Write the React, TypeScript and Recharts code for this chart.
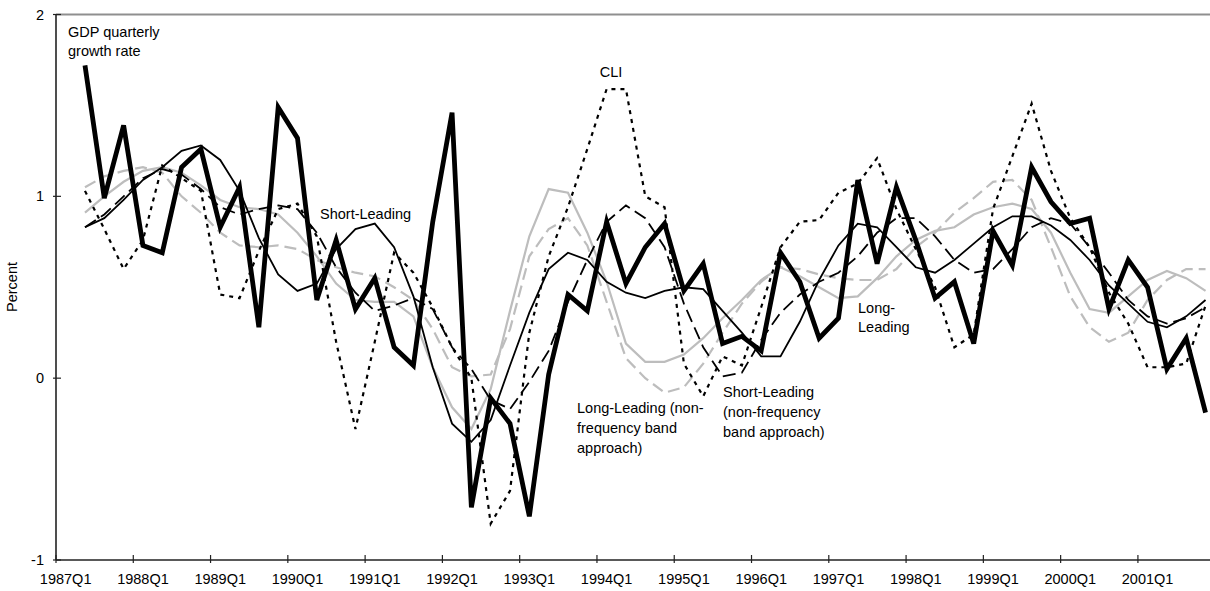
import React from 'react';
import { Customized, Line, LineChart, ReferenceLine, XAxis, YAxis } from 'recharts';

// Quarterly axis: 1987Q1 .. 2001Q4 (60 quarters)
const firstYear = 1987;
const quarterCount = 60;
const quarters: string[] = Array.from(
  { length: quarterCount },
  (_, i) => `${firstYear + Math.floor(i / 4)}Q${(i % 4) + 1}`
);

// Year boundaries that carry a tick + label
const yearTicks = [0, 4, 8, 12, 16, 20, 24, 28, 32, 36, 40, 44, 48, 52, 56];
const percentTicks = [-1, 0, 1, 2];

const gdpGrowth = [
  null, 1.72, 0.99, 1.39, 0.73, 0.69, 1.16, 1.26, 0.83, 1.05, 0.28, 1.49, 1.32, 0.43, 0.76, 0.38,
  0.55, 0.17, 0.07, 0.86, 1.46, -0.71, -0.11, -0.25, -0.76, 0.02, 0.46, 0.37, 0.86, 0.52, 0.72,
  0.85, 0.48, 0.63, 0.19, 0.23, 0.15, 0.69, 0.53, 0.22, 0.33, 1.09, 0.63, 1.05, 0.76, 0.44, 0.53,
  0.19, 0.81, 0.62, 1.16, 0.97, 0.85, 0.88, 0.38, 0.65, 0.5, 0.05, 0.22, -0.19,
];

const cli = [
  null, 1.03, 0.82, 0.6, 0.76, 1.17, 1.1, 1.03, 0.46, 0.44, 0.7, 0.93, 0.96, 0.78, 0.2, -0.28,
  0.2, 0.69, 0.58, 0.39, 0.17, 0.0, -0.8, -0.62, 0.25, 0.67, 0.94, 1.26, 1.59, 1.59, 1.0,
  0.94, 0.08, -0.1, 0.12, 0.07, 0.39, 0.72, 0.86, 0.87, 1.02, 1.07, 1.21, 0.93, 0.71, 0.5, 0.17,
  0.24, 0.93, 1.22, 1.51, 1.14, 0.88, 0.72, 0.47, 0.3, 0.06, 0.06, 0.08, 0.4,
];

const shortLeading = [
  null, 0.83, 0.88, 0.98, 1.09, 1.16, 1.25, 1.28, 1.2, 1.03, 0.77, 0.57, 0.48, 0.52, 0.71, 0.82,
  0.85, 0.72, 0.45, 0.06, -0.25, -0.35, -0.23, 0.07, 0.36, 0.6, 0.69, 0.65, 0.53, 0.47, 0.44,
  0.48, 0.5, 0.49, 0.37, 0.25, 0.12, 0.12, 0.31, 0.54, 0.73, 0.85, 0.83, 0.72, 0.61, 0.58, 0.65,
  0.74, 0.83, 0.89, 0.89, 0.84, 0.76, 0.65, 0.51, 0.41, 0.31, 0.28, 0.34, 0.43,
];

const shortLeadingNfb = [
  null, 0.83, 0.9, 1.0, 1.1, 1.15, 1.12, 1.04, 0.94, 0.9, 0.93, 0.95, 0.93, 0.8, 0.61, 0.47,
  0.37, 0.4, 0.44, 0.38, 0.17, 0.05, -0.12, -0.17, -0.02, 0.15, 0.42, 0.65, 0.86, 0.95, 0.88,
  0.72, 0.41, 0.17, 0.01, 0.03, 0.21, 0.36, 0.46, 0.53, 0.58, 0.67, 0.8, 0.88, 0.88, 0.78, 0.65,
  0.58, 0.6, 0.71, 0.83, 0.88, 0.85, 0.72, 0.58, 0.43, 0.34, 0.3, 0.33, 0.39,
];

const longLeading = [
  null, 0.91, 1.0, 1.08, 1.14, 1.16, 1.13, 1.06, 0.98, 0.94, 0.93, 0.9, 0.8, 0.67, 0.52, 0.43,
  0.42, 0.42, 0.34, 0.06, -0.16, -0.28, -0.06, 0.37, 0.78, 1.04, 1.02, 0.8, 0.53, 0.19, 0.09,
  0.09, 0.13, 0.22, 0.33, 0.43, 0.54, 0.61, 0.56, 0.5, 0.44, 0.45, 0.55, 0.67, 0.76, 0.81, 0.83,
  0.9, 0.94, 0.96, 0.93, 0.8, 0.58, 0.38, 0.36, 0.45, 0.54, 0.59, 0.55, 0.48,
];

const longLeadingNfb = [
  null, 1.05, 1.11, 1.14, 1.16, 1.13, 1.0, 0.91, 0.8, 0.73, 0.72, 0.73, 0.71, 0.65, 0.61, 0.58,
  0.56, 0.5, 0.43, 0.27, 0.06, 0.01, 0.02, 0.27, 0.67, 0.82, 0.88, 0.73, 0.42, 0.11, 0.0,
  -0.08, -0.05, 0.08, 0.25, 0.41, 0.53, 0.61, 0.6, 0.57, 0.55, 0.54, 0.54, 0.6, 0.72, 0.8, 0.91,
  0.99, 1.08, 1.09, 0.98, 0.72, 0.45, 0.28, 0.2, 0.25, 0.43, 0.54, 0.6, 0.6,
];

// each quarter sits in the middle of its slot on the axis
const rows = quarters.map((q, i) => ({
  pos: i + 0.5,
  quarter: q,
  gdp: gdpGrowth[i],
  cli: cli[i],
  sl: shortLeading[i],
  sln: shortLeadingNfb[i],
  ll: longLeading[i],
  lln: longLeadingNfb[i],
}));

const CHART_W = 1220;
const CHART_H = 591;
const MARGIN = { top: 14.5, right: 4.8, bottom: 0, left: 16 };
const Y_AXIS_W = 40;
const X_AXIS_H = 31;
const SLOT_W = (CHART_W - MARGIN.left - Y_AXIS_W - MARGIN.right) / quarterCount;
const FONT = 14.5;

const QuarterTick = (props: any) => {
  const { x, y, payload } = props;
  return (
    <g>
      <line x1={x} x2={x} y1={y - 5} y2={y + 3} stroke="#222" strokeWidth={1.2} />
      <text x={x + SLOT_W / 2} y={y + 24} textAnchor="middle" fontSize={FONT} fill="#000">
        {quarters[payload.value]}
      </text>
    </g>
  );
};

const PercentTick = (props: any) => {
  const { x, y, payload } = props;
  return (
    <g>
      <line x1={x - 3} x2={x + 5} y1={y} y2={y} stroke="#222" strokeWidth={1.2} />
      <text x={x - 12} y={y + 5} textAnchor="end" fontSize={FONT} fill="#000">
        {payload.value}
      </text>
    </g>
  );
};

const Notes = () => (
  <g fontSize={FONT} fill="#000">
    <text x={17} y={287} transform="rotate(-90 17 287)" textAnchor="middle">
      Percent
    </text>
    <text x={68} y={37}>GDP quarterly</text>
    <text x={68} y={56}>growth rate</text>
    <text x={611} y={77} textAnchor="middle">CLI</text>
    <text x={320} y={219}>Short-Leading</text>
    <text x={858} y={313}>Long-</text>
    <text x={858} y={332}>Leading</text>
    <text x={577} y={413}>Long-Leading (non-</text>
    <text x={577} y={433}>frequency band</text>
    <text x={577} y={453}>approach)</text>
    <text x={723} y={397}>Short-Leading</text>
    <text x={723} y={417}>(non-frequency</text>
    <text x={723} y={437}>band approach)</text>
  </g>
);

export default function App() {
  return (
    <div
      style={{
        position: 'absolute',
        left: 0,
        top: 0,
        width: 1210,
        height: 591,
        overflow: 'hidden',
        background: '#fff',
        fontFamily: '"Liberation Sans", Arial, sans-serif',
      }}
    >
      <LineChart width={CHART_W} height={CHART_H} data={rows} margin={MARGIN}>
        <XAxis
          type="number"
          dataKey="pos"
          domain={[0, quarterCount]}
          ticks={yearTicks}
          interval={0}
          height={X_AXIS_H}
          tickSize={0}
          tickMargin={0}
          tickLine={false}
          tick={<QuarterTick />}
          axisLine={{ stroke: '#222', strokeWidth: 1.6 }}
        />
        <YAxis
          type="number"
          domain={[-1, 2]}
          ticks={percentTicks}
          interval={0}
          width={Y_AXIS_W}
          tickSize={0}
          tickMargin={0}
          tickLine={false}
          tick={<PercentTick />}
          axisLine={{ stroke: '#222', strokeWidth: 1.6 }}
        />
        <ReferenceLine y={2} stroke="#8f8f8f" strokeWidth={2.2} />
        <Line
          dataKey="lln"
          type="linear"
          stroke="#bdbdbd"
          strokeWidth={2.2}
          strokeDasharray="12 6"
          dot={false}
          isAnimationActive={false}
        />
        <Line
          dataKey="ll"
          type="linear"
          stroke="#bdbdbd"
          strokeWidth={2.2}
          dot={false}
          isAnimationActive={false}
        />
        <Line
          dataKey="sln"
          type="linear"
          stroke="#000"
          strokeWidth={1.8}
          strokeDasharray="13 6"
          dot={false}
          isAnimationActive={false}
        />
        <Line
          dataKey="sl"
          type="linear"
          stroke="#000"
          strokeWidth={1.8}
          dot={false}
          isAnimationActive={false}
        />
        <Line
          dataKey="cli"
          type="linear"
          stroke="#000"
          strokeWidth={2.2}
          strokeDasharray="4 5"
          dot={false}
          isAnimationActive={false}
        />
        <Line
          dataKey="gdp"
          type="linear"
          stroke="#000"
          strokeWidth={4.8}
          dot={false}
          isAnimationActive={false}
        />
        <Customized component={Notes} />
      </LineChart>
    </div>
  );
}
